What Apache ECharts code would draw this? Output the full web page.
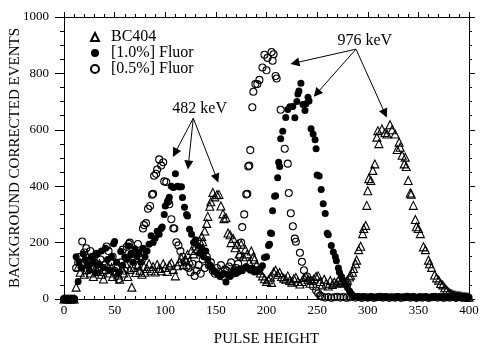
<!DOCTYPE html>
<html>
<head>
<meta charset="utf-8">
<script src="https://cdn.jsdelivr.net/npm/echarts@6/dist/echarts.min.js"></script>
<style>
  html, body { margin: 0; padding: 0; background: #fff; }
  #chart { width: 481px; height: 348px; }
</style>
</head>
<body>
<div id="chart"></div>
<script>
// series names as in the legend
const seriesNames = ['BC404', '[1.0%] Fluor', '[0.5%] Fluor'];

// [pulse height, background corrected events]
const bc404 = [
  [0,0],[2,0],[4,0],[6,0],[8,0],[10,0],
  [12,42],[14,114],[16,95],[18,125],[20,88],[22,104],[24,130],[26,92],[28,118],[29,80],[31,110],[33,98],
  [35,125],[37,88],[39,71],[41,105],[43,120],[45,92],[47,112],[48,80],[50,100],[52,118],[53,85],[55,70],
  [57,110],[59,92],[61,125],[63,80],[65,105],[67,42],[69,112],[71,94],[73,120],[75,100],[77,88],[79,115],
  [80,95],[82,108],[84,125],[86,100],[88,115],[90,96],[92,122],[94,108],[96,100],[98,125],[100,112],[102,98],
  [104,120],[106,128],[108,105],[110,82],[112,118],[114,132],[116,145],[118,122],[120,140],[122,158],[124,135],
  [126,172],[128,160],[130,188],[132,178],[134,206],[136,222],[137,203],[139,241],[141,268],[142,293],[144,329],
  [145,345],[147,378],[149,362],[151,370],[153,371],[155,330],[157,302],[158,285],[160,288],[162,234],[164,228],
  [165,200],[167,215],[169,182],[171,194],[173,160],[175,194],[177,150],[179,176],[181,160],[183,130],[185,170],
  [187,150],[188,141],[190,120],[192,102],[194,92],[196,82],[198,72],[200,62],[202,68],[204,78],[205,59],
  [207,96],[209,102],[211,88],[213,94],[215,80],[217,74],[219,70],[221,82],[223,66],[225,60],[227,72],[229,76],
  [231,62],[233,53],[235,62],[237,76],[239,80],[241,70],[243,56],[245,66],[247,72],[249,80],[251,82],[253,62],
  [255,50],[257,70],[259,56],[261,46],[263,66],[265,52],[267,60],[269,56],[271,66],[273,60],[275,70],[277,56],
  [279,62],[280,67],[282,78],[283,84],[285,95],[286,108],[288,125],[289,138],[291,175],[293,187],[295,232],
  [296,250],[298,261],[299,332],[300,384],[301,427],[303,420],[305,456],[307,479],[309,574],[310,597],[311,551],
  [314,603],[317,590],[319,585],[322,618],[324,600],[327,585],[329,530],[331,556],[332,538],[334,510],[336,479],
  [337,503],[338,470],[340,420],[342,376],[343,372],[345,332],[347,282],[348,256],[350,250],[352,232],[355,185],
  [357,175],[360,138],[361,125],[363,112],[366,85],[368,75],[370,67],[372,55],[374,50],[376,40],[378,32],
  [380,24],[382,20],[384,16],[386,14],[388,12],[390,12],[392,10],[394,9],[396,8],[398,7],[400,6]
];

const fluor10 = [
  [0,0],[2,0],[4,0],[6,0],[8,0],[10,0],
  [12,150],[14,62],[15,132],[17,112],[19,160],[21,140],[23,120],[25,102],[27,150],[29,130],[31,92],[33,160],
  [35,122],[37,170],[39,112],[41,180],[43,140],[45,102],[47,150],[49,196],[50,204],[52,130],[54,92],[56,168],
  [58,120],[60,150],[62,140],[64,188],[66,160],[68,130],[70,178],[72,150],[74,165],[76,130],[78,180],[80,150],
  [82,170],[84,194],[86,224],[88,200],[90,215],[92,240],[94,230],[96,250],[97,255],[99,300],[100,330],[102,342],
  [104,361],[106,400],[108,395],[110,444],[112,400],[114,397],[116,398],[117,360],[119,325],[121,300],[122,294],
  [124,247],[126,230],[128,200],[130,210],[132,190],[134,162],[136,180],[138,150],[140,170],[142,140],[144,120],
  [146,110],[148,100],[150,95],[152,88],[154,80],[156,86],[158,90],[160,60],[162,86],[164,80],[166,92],[168,100],
  [170,90],[172,96],[174,106],[176,100],[178,110],[180,115],[182,108],[184,102],[186,110],[188,96],[190,104],
  [192,100],[194,108],[196,118],[198,147],[200,150],[202,190],[203,194],[204,234],[205,232],[206,313],[208,364],
  [209,366],[211,430],[212,485],[213,470],[214,568],[216,595],[219,644],[221,672],[223,682],[226,683],[228,643],
  [230,700],[231,727],[232,738],[234,765],[236,690],[238,668],[239,692],[241,715],[242,702],[244,604],[246,585],
  [248,565],[249,533],[250,440],[252,436],[254,388],[256,338],[258,303],[260,233],[261,228],[264,190],[266,167],
  [268,150],[269,136],[271,110],[272,95],[274,80],[276,66],[278,52],[280,40],[282,28],[284,18],[286,10],
  [289,8],[292,6],[295,9],[298,7],[301,5],[304,8],[307,6],[310,7],[313,5],[316,8],[319,6],[322,7],[325,5],
  [328,8],[331,6],[334,7],[337,5],[340,8],[343,6],[346,7],[349,5],[352,8],[355,6],[358,7],[361,5],[364,8],
  [367,6],[370,7],[373,5],[376,8],[379,6],[382,7],[385,5],[388,8],[391,6],[394,7],[397,5],[400,6]
];

const fluor05 = [
  [0,0],[2,0],[4,0],[6,0],[8,0],[10,0],
  [12,110],[14,130],[16,150],[18,204],[20,165],[22,180],[24,120],[26,170],[28,150],[30,130],[32,160],[34,110],
  [36,140],[38,95],[40,120],[42,186],[44,170],[46,130],[48,150],[50,100],[52,90],[54,70],[56,130],[58,175],
  [60,100],[62,185],[64,195],[65,200],[67,160],[69,150],[71,120],[73,195],[75,165],[77,140],[78,250],[79,262],
  [81,269],[83,320],[85,330],[87,370],[88,373],[89,437],[91,444],[92,459],[94,495],[96,473],[98,485],[99,417],
  [101,415],[103,347],[104,336],[106,283],[108,251],[109,250],[111,201],[113,190],[115,170],[117,150],[119,132],
  [121,114],[123,110],[125,95],[127,125],[129,82],[131,100],[133,120],[135,90],[137,140],[139,110],[141,150],
  [143,120],[145,130],[147,100],[149,90],[151,110],[153,95],[155,120],[157,80],[159,105],[161,100],[163,115],
  [165,130],[167,90],[168,102],[170,110],[172,125],[174,150],[175,200],[176,255],[178,300],[180,371],[181,373],
  [182,470],[183,473],[184,528],[186,680],[187,735],[189,762],[191,762],[193,777],[196,821],[198,866],[200,811],
  [201,855],[205,876],[206,845],[207,868],[209,791],[210,782],[214,671],[218,533],[221,480],[222,376],[224,304],
  [226,258],[228,214],[229,203],[233,164],[235,132],[237,102],[240,80],[243,65],[246,45],[249,30],[251,20],
  [253,12],[255,8],[258,5],[261,7],[264,4],[267,6],[270,8],[273,5],[276,7],[279,4],[282,6],[285,8],[288,5],
  [291,7],[294,4],[297,6],[300,5],[303,7],[306,4],[309,6],[312,8],[315,5],[318,7],[321,4],[324,6],[327,5],
  [330,7],[333,4],[336,6],[339,8],[342,5],[345,7],[348,4],[351,6],[354,5],[357,7],[360,4],[363,6],[366,8],
  [369,5],[372,7],[375,4],[378,6],[381,5],[384,7],[387,4],[390,6],[393,5],[396,7],[399,4]
];

// annotation texts and arrows (data coordinates)
const peakLabels = [
  { name: '482 keV', coord: [134, 673] },
  { name: '976 keV', coord: [297, 914] }
];
const peakArrows = [
  [[127.7, 641], [109.6, 518]],
  [[127.7, 641], [122.8, 475]],
  [[127.7, 641], [150.8, 428]],
  [[288.4, 886], [228, 837]],
  [[288.4, 886], [249.6, 729]],
  [[288.4, 886], [317, 658]]
];

const serif = "'Liberation Serif', 'DejaVu Serif', serif";

const chart = echarts.init(document.getElementById('chart'));

const baseAxis = {
  type: 'value',
  axisLine: { show: true, onZero: false, lineStyle: { color: '#000', width: 1 } },
  splitLine: { show: false },
  axisLabel: { color: '#000', fontFamily: serif, fontSize: 13, formatter: v => String(v) }
};

chart.setOption({
  animation: false,
  backgroundColor: '#fff',
  grid: { left: 64, right: 12, top: 17, bottom: 49, containLabel: false, outerBoundsMode: 'none' },
  legend: {
    data: seriesNames,
    orient: 'vertical',
    left: 85,
    top: 24,
    itemWidth: 8,
    itemHeight: 8,
    itemGap: 0,
    textStyle: { fontFamily: serif, fontSize: 16, color: '#000', lineHeight: 15, padding: [0, 0, 0, 7] },
    selectedMode: false
  },
  xAxis: [
    Object.assign({}, baseAxis, {
      position: 'bottom', min: 0, max: 400, interval: 50,
      axisTick: { inside: true, length: 4, lineStyle: { color: '#000' } },
      minorTick: { show: true, splitNumber: 5, length: 3, lineStyle: { color: '#000' } },
      axisLabel: Object.assign({}, baseAxis.axisLabel, { margin: 5 }),
      name: 'PULSE HEIGHT', nameLocation: 'middle', nameGap: 33, nameMoveOverlap: false,
      nameTextStyle: { fontFamily: serif, fontSize: 15, color: '#000' }
    }),
    Object.assign({}, baseAxis, {
      position: 'top', min: 0, max: 400, interval: 50,
      axisTick: { inside: false, length: 5, lineStyle: { color: '#000' } },
      minorTick: { show: true, splitNumber: 5, length: 3, lineStyle: { color: '#000' } },
      axisLabel: { show: false }
    })
  ],
  yAxis: [
    Object.assign({}, baseAxis, {
      position: 'left', min: 0, max: 1000, interval: 200,
      axisTick: { inside: false, length: 9, lineStyle: { color: '#000' } },
      minorTick: { show: true, splitNumber: 4, length: 4, lineStyle: { color: '#000' } },
      axisLabel: Object.assign({}, baseAxis.axisLabel, { margin: 15 }),
      name: 'BACKGROUND CORRECTED EVENTS', nameLocation: 'middle', nameGap: 41, nameMoveOverlap: false,
      nameTextStyle: { fontFamily: serif, fontSize: 15, color: '#000' }
    }),
    Object.assign({}, baseAxis, {
      position: 'right', min: 0, max: 1000, interval: 200,
      axisTick: { inside: false, length: 6, lineStyle: { color: '#000' } },
      minorTick: { show: true, splitNumber: 4, length: 3, lineStyle: { color: '#000' } },
      axisLabel: { show: false }
    })
  ],
  series: [
    {
      name: seriesNames[0],
      type: 'scatter',
      data: bc404,
      symbol: 'triangle',
      symbolSize: 8,
      itemStyle: { color: 'rgba(255,255,255,0)', borderColor: '#000', borderWidth: 1.1, opacity: 1 },
      emphasis: { disabled: true },
      markLine: {
        silent: true,
        symbol: ['none', 'triangle'],
        symbolSize: 9,
        label: { show: false },
        lineStyle: { color: '#000', width: 1, type: 'solid' },
        itemStyle: { color: '#000' },
        data: peakArrows.map(a => [{ coord: a[0] }, { coord: a[1] }])
      },
      markPoint: {
        silent: true,
        symbol: 'rect',
        symbolSize: 1,
        itemStyle: { color: 'rgba(0,0,0,0)' },
        label: {
          show: true, position: 'inside', formatter: '{b}',
          fontFamily: serif, fontSize: 16, color: '#000'
        },
        data: peakLabels
      }
    },
    {
      name: seriesNames[1],
      type: 'scatter',
      data: fluor10,
      symbol: 'circle',
      symbolSize: 7,
      itemStyle: { color: '#000', opacity: 1 },
      emphasis: { disabled: true }
    },
    {
      name: seriesNames[2],
      type: 'scatter',
      data: fluor05,
      symbol: 'circle',
      symbolSize: 7,
      itemStyle: { color: 'rgba(255,255,255,0)', borderColor: '#000', borderWidth: 1.1, opacity: 1 },
      emphasis: { disabled: true }
    }
  ]
});
</script>
</body>
</html>
